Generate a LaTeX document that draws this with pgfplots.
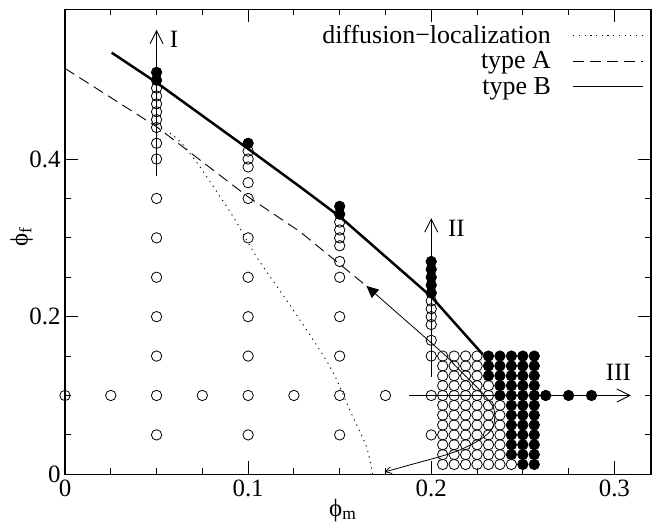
\documentclass[border=0pt]{standalone}
\usepackage{fontspec}
\setmainfont{Liberation Serif}
\usepackage{pgfplots}
\pgfplotsset{compat=1.18}
\usetikzlibrary{arrows.meta,calc}

\begin{document}
\begin{tikzpicture}
\begin{axis}[
    scale only axis,
    width=586bp, height=465bp,
    xmin=0, xmax=0.32, ymin=0, ymax=0.59,
    xtick={0,0.1,0.2,0.3}, xticklabels={0,0.1,0.2,0.3},
    ytick={0,0.2,0.4}, yticklabels={0,0.2,0.4},
    minor x tick num=3, minor y tick num=3,
    tick align=inside,
    major tick length=13bp, minor tick length=6bp,
    axis line style={line width=1.2bp},
    every tick/.style={line width=0.9bp, black},
    font=\fontsize{25}{30}\selectfont,
    xticklabel style={yshift=-2bp},
    yticklabel style={xshift=-1bp},
    xlabel={ϕ\textsubscript{m}},
    ylabel={ϕ\textsubscript{f}},
    every axis x label/.style={at={(axis description cs:0.474,-0.077)}, anchor=center},
    every axis y label/.style={at={(axis description cs:-0.074,0.51)}, anchor=center, rotate=90},
    clip=false,
    legend plot pos=right,
    legend cell align=right,
    legend image code/.code={\draw[#1] (0bp,0bp) -- (70bp,0bp);},
    legend style={draw=none, fill=none, at={(0.993,0.975)}, anchor=north east,
        column sep=20bp, row sep=3bp, nodes={inner sep=2bp},
        font=\fontsize{26}{30}\selectfont},
    circ/.style={only marks, mark=o, mark size=5.2bp, mark options={line width=0.8bp, black}},
    dot/.style={only marks, mark=*, mark size=5.2bp, mark options={line width=0.8bp, black, fill=black}},
]
\addlegendimage{black, line width=0.9bp, dash pattern=on 1.2bp off 4.5bp}
\addlegendentry{diffusion−localization}
\addlegendimage{black, line width=0.9bp, dash pattern=on 11bp off 6bp}
\addlegendentry{type A}
\addlegendimage{black, line width=0.9bp}
\addlegendentry{type B}

% diffusion-localization
\addplot[forget plot, smooth, black, line width=0.9bp, dash pattern=on 1.2bp off 4.5bp] coordinates {
    (0.0573,0.433) (0.0637,0.420) (0.0737,0.390) (0.0918,0.327) (0.1046,0.276)
    (0.1246,0.2085) (0.1446,0.137) (0.1555,0.0816) (0.1646,0.035) (0.168,0.0)
};
% type A
\addplot[forget plot, black, line width=0.9bp, dash pattern=on 11bp off 6bp] coordinates {
    (0,0.515) (0.05,0.441) (0.1,0.352) (0.1282,0.308) (0.163,0.242)
};
% type B
\addplot[forget plot, black, line width=2.5bp] coordinates {
    (0.0255,0.535) (0.05,0.497) (0.1,0.413) (0.1282,0.365) (0.15,0.327)
    (0.2,0.2254) (0.2155,0.185) (0.2282,0.152)
};
% trajectory
\addplot[forget plot, smooth, black, line width=0.8bp,
    {Triangle[length=12bp,width=11bp]}-{Straight Barb[length=6bp,width=7bp]}] coordinates {
    (0.1646,0.239) (0.1855,0.19625) (0.2064,0.1535) (0.2164,0.130) (0.2264,0.107)
    (0.2337,0.0858) (0.2346,0.0689) (0.2328,0.0562) (0.2264,0.0435) (0.2155,0.0308)
    (0.2046,0.0223) (0.1896,0.0127) (0.1746,0.003)
};
% arrows I, II, III
\addplot[forget plot, black, line width=0.9bp, -{Straight Barb[length=13bp,width=13bp]}] coordinates {(0.05,0.378) (0.05,0.564)};
\addplot[forget plot, black, line width=0.9bp, -{Straight Barb[length=13bp,width=13bp]}] coordinates {(0.2,0.124) (0.2,0.325)};
\addplot[forget plot, black, line width=0.9bp, -{Straight Barb[length=13bp,width=13bp]}] coordinates {(0.188,0.1) (0.309,0.1)};

% open circles
\addplot[forget plot, circ] coordinates {
    (0.05,0.05) (0.05,0.1) (0.05,0.15) (0.05,0.2) (0.05,0.25) (0.05,0.3) (0.05,0.35)
    (0.05,0.40) (0.05,0.42) (0.05,0.44) (0.05,0.45) (0.05,0.46) (0.05,0.47) (0.05,0.48) (0.05,0.49)
    (0.1,0.05) (0.1,0.1) (0.1,0.15) (0.1,0.2) (0.1,0.25) (0.1,0.3) (0.1,0.35)
    (0.1,0.37) (0.1,0.39) (0.1,0.40) (0.1,0.41)
    (0.15,0.05) (0.15,0.1) (0.15,0.15) (0.15,0.2) (0.15,0.25)
    (0.15,0.27) (0.15,0.29) (0.15,0.30) (0.15,0.31) (0.15,0.32)
    (0.2,0.05) (0.2,0.1) (0.2,0.15) (0.2,0.17) (0.2,0.19) (0.2,0.20) (0.2,0.21) (0.2,0.22)
    (0,0.1) (0.025,0.1) (0.075,0.1) (0.125,0.1) (0.175,0.1)
    (0.20625,0.15) (0.2125,0.15) (0.21875,0.15) (0.225,0.15)
    (0.20625,0.1375) (0.2125,0.1375) (0.21875,0.1375) (0.225,0.1375)
    (0.20625,0.125) (0.2125,0.125) (0.21875,0.125) (0.225,0.125)
    (0.20625,0.1125) (0.2125,0.1125) (0.21875,0.1125) (0.225,0.1125) (0.23125,0.1125)
    (0.20625,0.1) (0.2125,0.1) (0.21875,0.1) (0.225,0.1) (0.23125,0.1)
    (0.20625,0.0875) (0.2125,0.0875) (0.21875,0.0875) (0.225,0.0875) (0.23125,0.0875) (0.2375,0.0875)
    (0.20625,0.075) (0.2125,0.075) (0.21875,0.075) (0.225,0.075) (0.23125,0.075) (0.2375,0.075)
    (0.20625,0.0625) (0.2125,0.0625) (0.21875,0.0625) (0.225,0.0625) (0.23125,0.0625) (0.2375,0.0625)
    (0.20625,0.05) (0.2125,0.05) (0.21875,0.05) (0.225,0.05) (0.23125,0.05) (0.2375,0.05)
    (0.20625,0.0375) (0.2125,0.0375) (0.21875,0.0375) (0.225,0.0375) (0.23125,0.0375) (0.2375,0.0375)
    (0.20625,0.025) (0.2125,0.025) (0.21875,0.025) (0.225,0.025) (0.23125,0.025) (0.2375,0.025)
    (0.20625,0.0125) (0.2125,0.0125) (0.21875,0.0125) (0.225,0.0125) (0.23125,0.0125) (0.2375,0.0125) (0.24375,0.0125)
};
% filled circles
\addplot[forget plot, dot] coordinates {
    (0.05,0.50) (0.05,0.51)
    (0.1,0.42)
    (0.15,0.33) (0.15,0.34)
    (0.2,0.23) (0.2,0.24) (0.2,0.25) (0.2,0.26) (0.2,0.27)
    (0.2625,0.1) (0.275,0.1) (0.2875,0.1)
    (0.23125,0.15) (0.2375,0.15) (0.24375,0.15) (0.25,0.15) (0.25625,0.15)
    (0.23125,0.1375) (0.2375,0.1375) (0.24375,0.1375) (0.25,0.1375) (0.25625,0.1375)
    (0.23125,0.125) (0.2375,0.125) (0.24375,0.125) (0.25,0.125) (0.25625,0.125)
    (0.2375,0.1125) (0.24375,0.1125) (0.25,0.1125) (0.25625,0.1125)
    (0.2375,0.1) (0.24375,0.1) (0.25,0.1) (0.25625,0.1)
    (0.24375,0.0875) (0.25,0.0875) (0.25625,0.0875)
    (0.24375,0.075) (0.25,0.075) (0.25625,0.075)
    (0.24375,0.0625) (0.25,0.0625) (0.25625,0.0625)
    (0.24375,0.05) (0.25,0.05) (0.25625,0.05)
    (0.24375,0.0375) (0.25,0.0375) (0.25625,0.0375)
    (0.24375,0.025) (0.25,0.025) (0.25625,0.025)
    (0.25,0.0125) (0.25625,0.0125)
};

\node at (axis cs:0.0595,0.5525) {I};
\node at (axis cs:0.2137,0.3126) {II};
\node at (axis cs:0.3022,0.1288) {III};

\coordinate (sw) at (rel axis cs:0,0);
\coordinate (ne) at (rel axis cs:1,1);
\end{axis}
\pgfresetboundingbox
\path ($(sw)+(-65bp,-48.7bp)$) rectangle ($(ne)+(1bp,9.3bp)$);
\end{tikzpicture}
\end{document}
